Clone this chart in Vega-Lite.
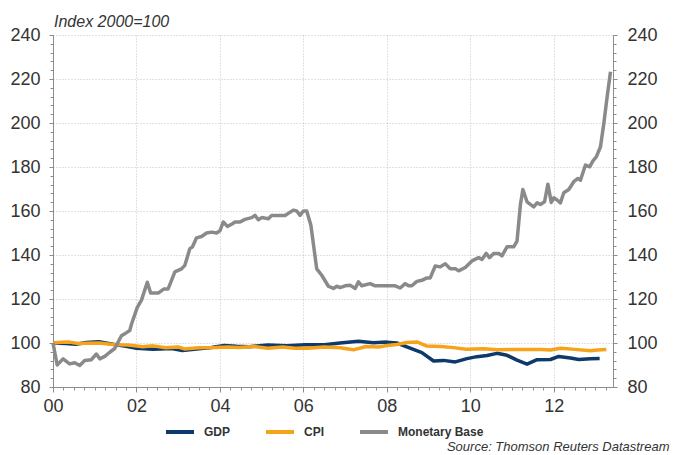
{
  "$schema": "https://vega.github.io/schema/vega-lite/v6.json",
  "width": 560,
  "height": 352,
  "autosize": {"type": "none"},
  "padding": {"left": 53, "top": 35, "right": 60, "bottom": 68},
  "background": "white",
  "config": {
    "font": "Liberation Sans",
    "view": {"stroke": null}
  },
  "title": {
    "text": "Index 2000=100",
    "anchor": "start",
    "frame": "group",
    "fontStyle": "italic",
    "fontWeight": "normal",
    "fontSize": 16,
    "color": "#333333",
    "offset": -4,
    "dx": 1
  },
  "datasets": {
    "lines": [
      {"series": "GDP", "t": 2000.0, "v": 100},
      {"series": "GDP", "t": 2000.3, "v": 99.8},
      {"series": "GDP", "t": 2000.55, "v": 99.4},
      {"series": "GDP", "t": 2000.8, "v": 100.2},
      {"series": "GDP", "t": 2001.1, "v": 100.6},
      {"series": "GDP", "t": 2001.5, "v": 99.2},
      {"series": "GDP", "t": 2001.75, "v": 98.5},
      {"series": "GDP", "t": 2002.0, "v": 97.6},
      {"series": "GDP", "t": 2002.4, "v": 97.2},
      {"series": "GDP", "t": 2002.85, "v": 97.5},
      {"series": "GDP", "t": 2003.1, "v": 96.6},
      {"series": "GDP", "t": 2003.5, "v": 97.4},
      {"series": "GDP", "t": 2003.8, "v": 98.0},
      {"series": "GDP", "t": 2004.1, "v": 98.9},
      {"series": "GDP", "t": 2004.4, "v": 98.5},
      {"series": "GDP", "t": 2004.7, "v": 98.3},
      {"series": "GDP", "t": 2005.15, "v": 99.1},
      {"series": "GDP", "t": 2005.6, "v": 98.8},
      {"series": "GDP", "t": 2006.05, "v": 99.2},
      {"series": "GDP", "t": 2006.5, "v": 99.2},
      {"series": "GDP", "t": 2006.88, "v": 100.0},
      {"series": "GDP", "t": 2007.32, "v": 100.8},
      {"series": "GDP", "t": 2007.68, "v": 100.1},
      {"series": "GDP", "t": 2008.0, "v": 100.4},
      {"series": "GDP", "t": 2008.24, "v": 100.0},
      {"series": "GDP", "t": 2008.48, "v": 98.2},
      {"series": "GDP", "t": 2008.84, "v": 95.6},
      {"series": "GDP", "t": 2009.12, "v": 91.8},
      {"series": "GDP", "t": 2009.36, "v": 92.1},
      {"series": "GDP", "t": 2009.64, "v": 91.4},
      {"series": "GDP", "t": 2009.92, "v": 92.9},
      {"series": "GDP", "t": 2010.16, "v": 93.8},
      {"series": "GDP", "t": 2010.4, "v": 94.3},
      {"series": "GDP", "t": 2010.64, "v": 95.3},
      {"series": "GDP", "t": 2010.88, "v": 94.4},
      {"series": "GDP", "t": 2011.12, "v": 92.2},
      {"series": "GDP", "t": 2011.36, "v": 90.4},
      {"series": "GDP", "t": 2011.6, "v": 92.4},
      {"series": "GDP", "t": 2011.92, "v": 92.5},
      {"series": "GDP", "t": 2012.12, "v": 93.9},
      {"series": "GDP", "t": 2012.4, "v": 93.2},
      {"series": "GDP", "t": 2012.6, "v": 92.5},
      {"series": "GDP", "t": 2012.88, "v": 92.8},
      {"series": "GDP", "t": 2013.1, "v": 92.9},
      {"series": "CPI", "t": 2000.0, "v": 100},
      {"series": "CPI", "t": 2000.2, "v": 100.3},
      {"series": "CPI", "t": 2000.4, "v": 100.4},
      {"series": "CPI", "t": 2000.6, "v": 99.8},
      {"series": "CPI", "t": 2000.8, "v": 99.9},
      {"series": "CPI", "t": 2001.1, "v": 100.0},
      {"series": "CPI", "t": 2001.5, "v": 99.2},
      {"series": "CPI", "t": 2001.8, "v": 99.1},
      {"series": "CPI", "t": 2002.15, "v": 98.3},
      {"series": "CPI", "t": 2002.4, "v": 98.7},
      {"series": "CPI", "t": 2002.7, "v": 97.8},
      {"series": "CPI", "t": 2003.0, "v": 98.2},
      {"series": "CPI", "t": 2003.15, "v": 97.3},
      {"series": "CPI", "t": 2003.5, "v": 97.8},
      {"series": "CPI", "t": 2003.9, "v": 97.9},
      {"series": "CPI", "t": 2004.2, "v": 98.2},
      {"series": "CPI", "t": 2004.45, "v": 97.9},
      {"series": "CPI", "t": 2004.8, "v": 98.4},
      {"series": "CPI", "t": 2005.15, "v": 97.6},
      {"series": "CPI", "t": 2005.5, "v": 98.2},
      {"series": "CPI", "t": 2005.8, "v": 97.6},
      {"series": "CPI", "t": 2006.1, "v": 97.6},
      {"series": "CPI", "t": 2006.5, "v": 98.2},
      {"series": "CPI", "t": 2006.88, "v": 97.8},
      {"series": "CPI", "t": 2007.2, "v": 96.9},
      {"series": "CPI", "t": 2007.5, "v": 98.4},
      {"series": "CPI", "t": 2007.8, "v": 98.2},
      {"series": "CPI", "t": 2008.0, "v": 98.9},
      {"series": "CPI", "t": 2008.24, "v": 99.3},
      {"series": "CPI", "t": 2008.48, "v": 100.2},
      {"series": "CPI", "t": 2008.72, "v": 100.5},
      {"series": "CPI", "t": 2008.96, "v": 98.6},
      {"series": "CPI", "t": 2009.3, "v": 98.4},
      {"series": "CPI", "t": 2009.6, "v": 97.9},
      {"series": "CPI", "t": 2009.9, "v": 97.2},
      {"series": "CPI", "t": 2010.32, "v": 97.4},
      {"series": "CPI", "t": 2010.64, "v": 96.9},
      {"series": "CPI", "t": 2011.04, "v": 97.1},
      {"series": "CPI", "t": 2011.4, "v": 97.1},
      {"series": "CPI", "t": 2011.7, "v": 97.1},
      {"series": "CPI", "t": 2011.92, "v": 96.8},
      {"series": "CPI", "t": 2012.16, "v": 97.6},
      {"series": "CPI", "t": 2012.5, "v": 97.1},
      {"series": "CPI", "t": 2012.88, "v": 96.5},
      {"series": "CPI", "t": 2013.05, "v": 96.8},
      {"series": "CPI", "t": 2013.26, "v": 97.0},
      {"series": "Monetary Base", "t": 2000.0, "v": 100},
      {"series": "Monetary Base", "t": 2000.1, "v": 90},
      {"series": "Monetary Base", "t": 2000.24, "v": 92.8},
      {"series": "Monetary Base", "t": 2000.4, "v": 90.5},
      {"series": "Monetary Base", "t": 2000.52, "v": 91},
      {"series": "Monetary Base", "t": 2000.64, "v": 89.8},
      {"series": "Monetary Base", "t": 2000.76, "v": 92},
      {"series": "Monetary Base", "t": 2000.92, "v": 92.4},
      {"series": "Monetary Base", "t": 2001.04, "v": 95},
      {"series": "Monetary Base", "t": 2001.12, "v": 92.8},
      {"series": "Monetary Base", "t": 2001.24, "v": 93.9},
      {"series": "Monetary Base", "t": 2001.36, "v": 95.8},
      {"series": "Monetary Base", "t": 2001.48, "v": 97.5},
      {"series": "Monetary Base", "t": 2001.64, "v": 103.3},
      {"series": "Monetary Base", "t": 2001.76, "v": 104.7},
      {"series": "Monetary Base", "t": 2001.84, "v": 105.7},
      {"series": "Monetary Base", "t": 2001.88, "v": 108.5},
      {"series": "Monetary Base", "t": 2002.02, "v": 116.2},
      {"series": "Monetary Base", "t": 2002.12, "v": 119.5},
      {"series": "Monetary Base", "t": 2002.26, "v": 127.6},
      {"series": "Monetary Base", "t": 2002.34, "v": 122.7},
      {"series": "Monetary Base", "t": 2002.52, "v": 122.7},
      {"series": "Monetary Base", "t": 2002.66, "v": 124.6},
      {"series": "Monetary Base", "t": 2002.76, "v": 124.6},
      {"series": "Monetary Base", "t": 2002.92, "v": 132.3},
      {"series": "Monetary Base", "t": 2003.08, "v": 133.7},
      {"series": "Monetary Base", "t": 2003.16, "v": 135.3},
      {"series": "Monetary Base", "t": 2003.28, "v": 142.9},
      {"series": "Monetary Base", "t": 2003.34, "v": 143.6},
      {"series": "Monetary Base", "t": 2003.44, "v": 147.8},
      {"series": "Monetary Base", "t": 2003.56, "v": 148.4},
      {"series": "Monetary Base", "t": 2003.68, "v": 150},
      {"series": "Monetary Base", "t": 2003.8, "v": 150.4},
      {"series": "Monetary Base", "t": 2003.92, "v": 150},
      {"series": "Monetary Base", "t": 2004.0, "v": 151},
      {"series": "Monetary Base", "t": 2004.08, "v": 155},
      {"series": "Monetary Base", "t": 2004.18, "v": 153},
      {"series": "Monetary Base", "t": 2004.28, "v": 154},
      {"series": "Monetary Base", "t": 2004.36, "v": 155},
      {"series": "Monetary Base", "t": 2004.48, "v": 155},
      {"series": "Monetary Base", "t": 2004.6, "v": 156.2},
      {"series": "Monetary Base", "t": 2004.76, "v": 157},
      {"series": "Monetary Base", "t": 2004.84, "v": 158},
      {"series": "Monetary Base", "t": 2004.92, "v": 156},
      {"series": "Monetary Base", "t": 2005.0, "v": 157},
      {"series": "Monetary Base", "t": 2005.16, "v": 156.5},
      {"series": "Monetary Base", "t": 2005.24, "v": 158},
      {"series": "Monetary Base", "t": 2005.56, "v": 158},
      {"series": "Monetary Base", "t": 2005.76, "v": 160.4},
      {"series": "Monetary Base", "t": 2005.84, "v": 160},
      {"series": "Monetary Base", "t": 2005.92, "v": 158},
      {"series": "Monetary Base", "t": 2006.0, "v": 160},
      {"series": "Monetary Base", "t": 2006.08, "v": 160},
      {"series": "Monetary Base", "t": 2006.18, "v": 153.5},
      {"series": "Monetary Base", "t": 2006.32, "v": 133.7},
      {"series": "Monetary Base", "t": 2006.44, "v": 130.8},
      {"series": "Monetary Base", "t": 2006.6, "v": 125.8},
      {"series": "Monetary Base", "t": 2006.72, "v": 124.8},
      {"series": "Monetary Base", "t": 2006.8, "v": 125.8},
      {"series": "Monetary Base", "t": 2006.88, "v": 125.2},
      {"series": "Monetary Base", "t": 2007.0, "v": 126},
      {"series": "Monetary Base", "t": 2007.12, "v": 126.3},
      {"series": "Monetary Base", "t": 2007.24, "v": 124.8},
      {"series": "Monetary Base", "t": 2007.32, "v": 127.8},
      {"series": "Monetary Base", "t": 2007.4, "v": 126},
      {"series": "Monetary Base", "t": 2007.6, "v": 127},
      {"series": "Monetary Base", "t": 2007.72, "v": 126},
      {"series": "Monetary Base", "t": 2008.0, "v": 126},
      {"series": "Monetary Base", "t": 2008.2, "v": 126},
      {"series": "Monetary Base", "t": 2008.32, "v": 125},
      {"series": "Monetary Base", "t": 2008.44, "v": 127},
      {"series": "Monetary Base", "t": 2008.52, "v": 126},
      {"series": "Monetary Base", "t": 2008.6, "v": 126},
      {"series": "Monetary Base", "t": 2008.72, "v": 128},
      {"series": "Monetary Base", "t": 2008.84, "v": 128.5},
      {"series": "Monetary Base", "t": 2008.96, "v": 129.6},
      {"series": "Monetary Base", "t": 2009.04, "v": 129.6},
      {"series": "Monetary Base", "t": 2009.16, "v": 135},
      {"series": "Monetary Base", "t": 2009.28, "v": 134.6},
      {"series": "Monetary Base", "t": 2009.4, "v": 136},
      {"series": "Monetary Base", "t": 2009.52, "v": 133.8},
      {"series": "Monetary Base", "t": 2009.64, "v": 133.8},
      {"series": "Monetary Base", "t": 2009.72, "v": 132.8},
      {"series": "Monetary Base", "t": 2009.88, "v": 134.3},
      {"series": "Monetary Base", "t": 2010.04, "v": 137.3},
      {"series": "Monetary Base", "t": 2010.2, "v": 138.8},
      {"series": "Monetary Base", "t": 2010.28, "v": 138},
      {"series": "Monetary Base", "t": 2010.38, "v": 140.7},
      {"series": "Monetary Base", "t": 2010.46, "v": 138.8},
      {"series": "Monetary Base", "t": 2010.56, "v": 140.7},
      {"series": "Monetary Base", "t": 2010.68, "v": 140.7},
      {"series": "Monetary Base", "t": 2010.76, "v": 139.6},
      {"series": "Monetary Base", "t": 2010.88, "v": 143.7},
      {"series": "Monetary Base", "t": 2011.04, "v": 143.7},
      {"series": "Monetary Base", "t": 2011.12, "v": 146.3},
      {"series": "Monetary Base", "t": 2011.2, "v": 162.7},
      {"series": "Monetary Base", "t": 2011.26, "v": 169.8},
      {"series": "Monetary Base", "t": 2011.36, "v": 164.2},
      {"series": "Monetary Base", "t": 2011.44, "v": 163},
      {"series": "Monetary Base", "t": 2011.52, "v": 161.9},
      {"series": "Monetary Base", "t": 2011.6, "v": 163.7},
      {"series": "Monetary Base", "t": 2011.68, "v": 163},
      {"series": "Monetary Base", "t": 2011.78, "v": 164.2},
      {"series": "Monetary Base", "t": 2011.86, "v": 172.2},
      {"series": "Monetary Base", "t": 2011.94, "v": 163.9},
      {"series": "Monetary Base", "t": 2012.0, "v": 166},
      {"series": "Monetary Base", "t": 2012.08, "v": 165},
      {"series": "Monetary Base", "t": 2012.16, "v": 163.7},
      {"series": "Monetary Base", "t": 2012.24, "v": 168.3},
      {"series": "Monetary Base", "t": 2012.36, "v": 169.8},
      {"series": "Monetary Base", "t": 2012.48, "v": 173.3},
      {"series": "Monetary Base", "t": 2012.58, "v": 174.8},
      {"series": "Monetary Base", "t": 2012.64, "v": 174},
      {"series": "Monetary Base", "t": 2012.76, "v": 180.9},
      {"series": "Monetary Base", "t": 2012.86, "v": 180.1},
      {"series": "Monetary Base", "t": 2012.94, "v": 182.8},
      {"series": "Monetary Base", "t": 2013.02, "v": 184.6},
      {"series": "Monetary Base", "t": 2013.12, "v": 189.2},
      {"series": "Monetary Base", "t": 2013.2, "v": 199.8},
      {"series": "Monetary Base", "t": 2013.28, "v": 212},
      {"series": "Monetary Base", "t": 2013.36, "v": 223.3}
    ]
  },
  "data": {"name": "lines"},
  "resolve": {"axis": {"x": "independent", "y": "independent"}},
  "layer": [
    {
      "mark": {"type": "line", "strokeWidth": 3.5, "strokeJoin": "round"},
      "encoding": {
        "x": {
          "field": "t", "type": "quantitative",
          "scale": {"domain": [2000, 2013.42], "nice": false, "zero": false},
          "axis": {
            "orient": "bottom",
            "values": [2000, 2002, 2004, 2006, 2008, 2010, 2012],
            "labelExpr": "format(datum.value - 2000, '02d')",
            "labelFontSize": 18, "labelColor": "#333333", "labelPadding": 5,
            "labelFlush": false,
            "tickSize": 5, "tickColor": "#8c8c8c",
            "domainColor": "#8c8c8c",
            "grid": true, "gridColor": "#c4c4c4", "gridDash": [1, 2],
            "title": "Source: Thomson Reuters Datastream",
            "titleFontStyle": "italic", "titleFontWeight": "normal",
            "titleFontSize": 13, "titleColor": "#333333",
            "titleAnchor": "end", "titleAlign": "right", "titleBaseline": "middle",
            "titleX": 616, "titleY": 59
          }
        },
        "y": {
          "field": "v", "type": "quantitative",
          "scale": {"domain": [80, 240], "nice": false, "zero": false},
          "axis": {
            "orient": "left",
            "values": [80, 100, 120, 140, 160, 180, 200, 220, 240],
            "labelFontSize": 18, "labelColor": "#333333", "labelPadding": 9,
            "labelFlush": false,
            "tickSize": 4, "tickColor": "#8c8c8c",
            "domainColor": "#8c8c8c",
            "grid": true, "gridColor": "#c4c4c4", "gridDash": [1, 2],
            "title": null
          }
        },
        "color": {
          "field": "series", "type": "nominal",
          "scale": {"domain": ["GDP", "CPI", "Monetary Base"], "range": ["#0d3a6b", "#f7a21b", "#8a8a8a"]},
          "legend": {
            "title": null,
            "orient": "none",
            "legendX": 111,
            "legendY": 381,
            "direction": "horizontal",
            "symbolType": "stroke",
            "symbolStrokeWidth": 4,
            "symbolSize": 784,
            "labelFontSize": 12,
            "labelFontWeight": "bold",
            "labelColor": "#333333",
            "labelOffset": 8,
            "columnPadding": 27
          }
        }
      }
    },
    {
      "mark": {"type": "point", "opacity": 0},
      "encoding": {
        "x": {
          "field": "t", "type": "quantitative",
          "axis": {
            "orient": "bottom",
            "values": [2000, 2000.25, 2000.5, 2000.75, 2001, 2001.25, 2001.5, 2001.75, 2002, 2002.25, 2002.5, 2002.75, 2003, 2003.25, 2003.5, 2003.75, 2004, 2004.25, 2004.5, 2004.75, 2005, 2005.25, 2005.5, 2005.75, 2006, 2006.25, 2006.5, 2006.75, 2007, 2007.25, 2007.5, 2007.75, 2008, 2008.25, 2008.5, 2008.75, 2009, 2009.25, 2009.5, 2009.75, 2010, 2010.25, 2010.5, 2010.75, 2011, 2011.25, 2011.5, 2011.75, 2012, 2012.25, 2012.5, 2012.75, 2013, 2013.25],
            "labels": false, "domain": false, "grid": false,
            "tickSize": 3, "tickColor": "#8c8c8c", "title": null
          }
        },
        "y": {
          "field": "v", "type": "quantitative",
          "axis": {
            "orient": "left",
            "values": [80, 84, 88, 92, 96, 100, 104, 108, 112, 116, 120, 124, 128, 132, 136, 140, 144, 148, 152, 156, 160, 164, 168, 172, 176, 180, 184, 188, 192, 196, 200, 204, 208, 212, 216, 220, 224, 228, 232, 236, 240],
            "labels": false, "domain": false, "grid": false,
            "tickSize": 3, "tickColor": "#8c8c8c", "title": null
          }
        }
      }
    },
    {
      "mark": {"type": "point", "opacity": 0},
      "encoding": {
        "x": {"field": "t", "type": "quantitative", "axis": null},
        "y": {
          "field": "v", "type": "quantitative",
          "axis": {
            "orient": "right",
            "values": [80, 100, 120, 140, 160, 180, 200, 220, 240],
            "labelFontSize": 18, "labelColor": "#333333", "labelPadding": 10,
            "labelFlush": false,
            "tickSize": 4, "tickColor": "#8c8c8c",
            "domainColor": "#8c8c8c",
            "grid": false, "title": null
          }
        }
      }
    },
    {
      "mark": {"type": "point", "opacity": 0},
      "encoding": {
        "x": {"field": "t", "type": "quantitative", "axis": null},
        "y": {
          "field": "v", "type": "quantitative",
          "axis": {
            "orient": "right",
            "values": [80, 84, 88, 92, 96, 100, 104, 108, 112, 116, 120, 124, 128, 132, 136, 140, 144, 148, 152, 156, 160, 164, 168, 172, 176, 180, 184, 188, 192, 196, 200, 204, 208, 212, 216, 220, 224, 228, 232, 236, 240],
            "labels": false, "domain": false, "grid": false,
            "tickSize": 3, "tickColor": "#8c8c8c", "title": null
          }
        }
      }
    }
  ]
}
